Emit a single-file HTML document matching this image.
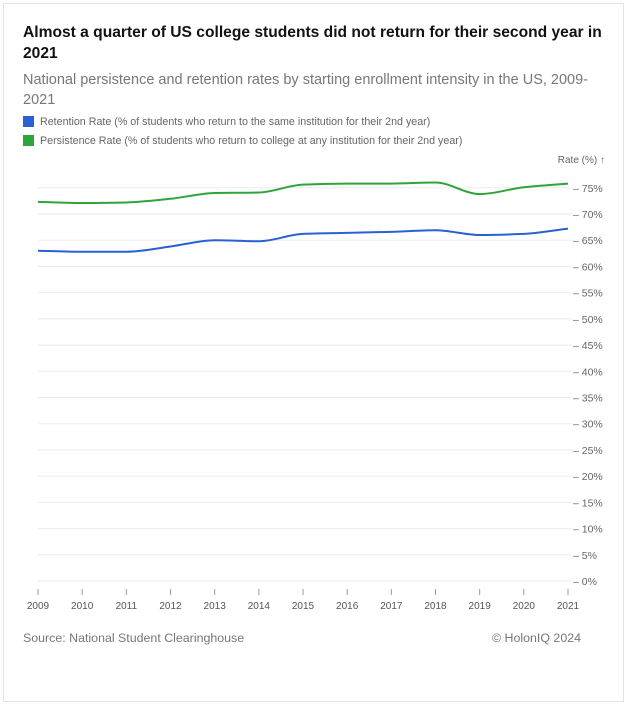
<!DOCTYPE html>
<html><head><meta charset="utf-8"><style>
body{margin:0;background:#fff;font-family:"Liberation Sans",Arial,sans-serif;}
#card{position:absolute;left:3px;top:3px;width:621px;height:699px;border:1px solid #e4e4e4;box-sizing:border-box;}
.t{position:absolute;white-space:nowrap;}
</style></head><body>
<div id="card"></div>
<div class="t" style="left:23px;top:22px;font-size:15.6px;font-weight:bold;color:#111;line-height:21px;">Almost a quarter of US college students did not return for their second year in<br>2021</div>
<div class="t" style="left:23px;top:70px;font-size:14.5px;color:#777;line-height:20px;">National persistence and retention rates by starting enrollment intensity in the US, 2009-<br>2021</div>
<div class="t" style="left:23px;top:116px;font-size:10.7px;color:#666;"><span style="display:inline-block;width:11px;height:11px;background:#2962d0;vertical-align:-2px;margin-right:6px;"></span>Retention Rate (% of students who return to the same institution for their 2nd year)</div>
<div class="t" style="left:23px;top:135px;font-size:10.7px;color:#666;"><span style="display:inline-block;width:11px;height:11px;background:#2ea43a;vertical-align:-2px;margin-right:6px;"></span>Persistence Rate (% of students who return to college at any institution for their 2nd year)</div>
<svg id="chart" width="630" height="707" style="position:absolute;left:0;top:0"></svg>
<div class="t" style="left:23px;top:631px;font-size:12.4px;color:#777;">Source: National Student Clearinghouse</div>
<div class="t" style="right:49px;top:631px;font-size:12.4px;color:#777;">© HolonIQ 2024</div>
<script>
const years=[2009,2010,2011,2012,2013,2014,2015,2016,2017,2018,2019,2020,2021];
const retention=[63.0,62.8,62.8,63.8,65.0,64.8,66.2,66.4,66.6,66.9,66.0,66.2,67.2];
const persistence=[72.3,72.1,72.2,72.9,74.0,74.1,75.6,75.8,75.8,76.0,73.8,75.1,75.8];
const yTicks=[0,5,10,15,20,25,30,35,40,45,50,55,60,65,70,75];
const NS="http://www.w3.org/2000/svg";
const svg=document.getElementById('chart');
const x0=38,x1=568,y0=581,yPer=5.243;
const X=i=>x0+(x1-x0)*i/(years.length-1);
const Y=v=>y0-v*yPer;
function mk(t,a){const e=document.createElementNS(NS,t);for(const k in a)e.setAttribute(k,a[k]);svg.appendChild(e);return e;}
yTicks.forEach(v=>{
 const g=mk('line',{x1:38,x2:572,y1:Y(v),y2:Y(v),stroke:'#ebebeb','stroke-width':1});
 
 
 const t=mk('text',{x:573,y:Y(v)+4,'font-size':10.5,fill:'#666'});
 t.textContent='– '+v+'%';
 
 
});
const yt=mk('text',{x:605,y:163,'font-size':10,fill:'#666','text-anchor':'end'});
yt.textContent='Rate (%) ↑';


years.forEach((yr,i)=>{
 const tk=mk('line',{x1:X(i),x2:X(i),y1:589,y2:595,stroke:'#999'});
 
 
 const t=mk('text',{x:X(i),y:609,'font-size':10,fill:'#555','text-anchor':'middle'});
 t.textContent=yr;
 
 
});
function monotone(pts){
 const n=pts.length,d=[],m=[];
 for(let i=0;i<n-1;i++)d.push((pts[i+1][1]-pts[i][1])/(pts[i+1][0]-pts[i][0]));
 for(let i=0;i<n;i++){
  if(i==0)m.push(d[0]);else if(i==n-1)m.push(d[n-2]);
  else m.push(d[i-1]*d[i]<=0?0:2/(1/d[i-1]+1/d[i]));
 }
 let s='M'+pts[0][0]+','+pts[0][1];
 for(let i=0;i<n-1;i++){
  const h=(pts[i+1][0]-pts[i][0])/3;
  s+=' C'+(pts[i][0]+h)+','+(pts[i][1]+m[i]*h)+' '+(pts[i+1][0]-h)+','+(pts[i+1][1]-m[i+1]*h)+' '+pts[i+1][0]+','+pts[i+1][1];
 }
 return s;
}
[[persistence,'#2ea43a','persistence-line'],[retention,'#2962d0','retention-line']].forEach(([arr,c,n])=>{
 const p=mk('path',{d:monotone(arr.map((v,i)=>[X(i),Y(v)])),fill:'none',stroke:c,'stroke-width':2});
 
 
});
</script>
</body></html>
